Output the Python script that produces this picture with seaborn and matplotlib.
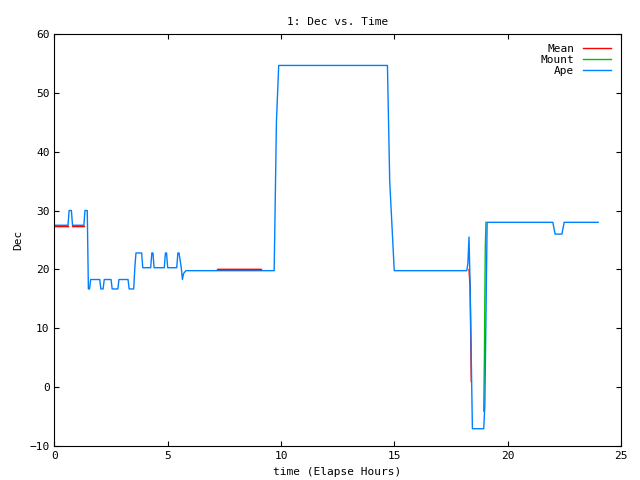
import matplotlib
matplotlib.use("Agg")
import matplotlib.pyplot as plt
import seaborn as sns
import pandas as pd

ape_t = [0, 0.6, 0.65, 0.75, 0.8, 1.3, 1.35, 1.45, 1.5, 1.55, 1.6, 2.0, 2.05, 2.15, 2.2, 2.5, 2.55, 2.8, 2.85, 3.25, 3.3, 3.5, 3.55, 3.6, 3.85, 3.9, 4.25, 4.3, 4.35, 4.4, 4.85, 4.9, 4.95, 5.0, 5.4, 5.45, 5.5, 5.6, 5.65, 5.7, 5.8, 9.7, 9.8, 9.9, 14.7, 14.8, 15.0, 18.2, 18.25, 18.3, 18.35, 18.45, 18.95, 19.0, 19.1, 22.0, 22.1, 22.4, 22.5, 24.0]
ape_d = [27.5, 27.5, 30, 30, 27.5, 27.5, 30, 30, 16.7, 16.7, 18.3, 18.3, 16.7, 16.7, 18.3, 18.3, 16.7, 16.7, 18.3, 18.3, 16.7, 16.7, 20.3, 22.8, 22.8, 20.3, 20.3, 22.8, 22.8, 20.3, 20.3, 22.8, 22.8, 20.3, 20.3, 22.8, 22.8, 20.3, 18.3, 19.3, 19.8, 19.8, 45, 54.6, 54.6, 35, 19.8, 19.8, 21, 25.5, 17, -7, -7, -3, 28, 28, 26, 26, 28, 28]
mean_t = [0, 0.6, None, 0.8, 1.3, None, 7.2, 9.1, None, 18.3, 18.35, 18.4]
mean_d = [27.3, 27.3, None, 27.3, 27.3, None, 20.0, 20.0, None, 20, 17, 1]
mount_t = [18.95, 18.98, 19.0, 19.02, 19.05]
mount_d = [-4, 5, 15, 24, 28]

plt.rcParams["font.family"] = "DejaVu Sans Mono"
fig, ax = plt.subplots(figsize=(6.4, 4.8), dpi=100)
fig.subplots_adjust(left=0.085, right=0.97, top=0.93, bottom=0.07)

ax.plot(mean_t, mean_d, color="#ff0000", lw=1, label="Mean")
sns.lineplot(x=mount_t, y=mount_d, color="#00c000", lw=1, label="Mount", ax=ax, sort=False, estimator=None)
sns.lineplot(x=ape_t, y=ape_d, color="#0080ff", lw=1, label="Ape", ax=ax, sort=False, estimator=None)
ax.plot(mean_t[:9], mean_d[:9], color="#ff0000", lw=1)

ax.set_xlim(0, 25)
ax.set_ylim(-10, 60)
ax.set_xticks(range(0, 26, 5))
ax.set_yticks(range(-10, 61, 10))
ax.tick_params(direction="in", labelsize=8, top=True, right=True)
ax.set_xlabel("time (Elapse Hours)", fontsize=8)
ax.set_ylabel("Dec", fontsize=8)
ax.set_title("1: Dec vs. Time", fontsize=8)
ax.legend(loc="upper right", frameon=False, fontsize=8, markerfirst=False, handlelength=2.5, labelspacing=0.1)
fig.savefig("out.png")
